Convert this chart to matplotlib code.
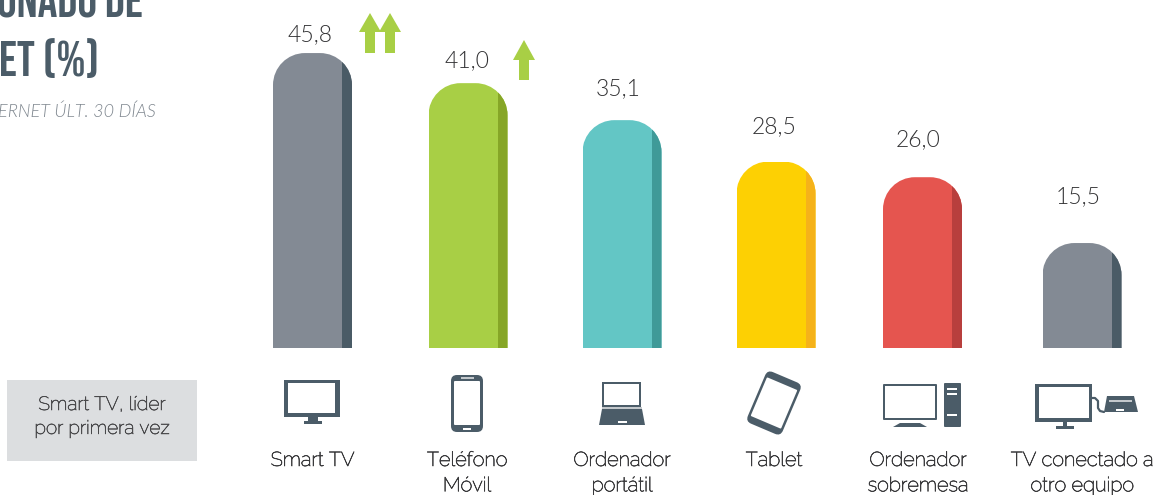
"""Porcentaje de uso de dispositivos: rounded bars with device icons under them."""
import matplotlib
matplotlib.use("Agg")
import matplotlib.patheffects as pe
import matplotlib.pyplot as plt
from matplotlib.patches import FancyBboxPatch, PathPatch, Polygon, Rectangle
from matplotlib.path import Path
from matplotlib.transforms import Affine2D

# data
categories = ["Smart TV", "Teléfono\nMóvil", "Ordenador\nportátil", "Tablet",
              "Ordenador\nsobremesa", "TV conectado a\notro equipo"]
values = [45.8, 41.0, 35.1, 28.5, 26.0, 15.5]

# layout, in pixels of the 1173x495 picture
W, H = 1173, 495
BASE_Y = 348
BAR_W = 79
SHADE_W = 10
RADIUS = 32
PX_PER_UNIT = 6.27
AXIS_FLOOR = -1.24
BAR_X = [312.5, 468, 622, 776, 922.5, 1082]
LABEL_X = [312.5, 467, 622, 774, 918, 1082]
VALUE_X = [310, 467, 618, 774, 918, 1078]
VALUE_Y = [35, 61, 89, 127, 140, 197]

FACE = ["#838a94", "#a8cf45", "#63c6c5", "#fdd003", "#e5554f", "#838a94"]
SHADE = ["#4a5b66", "#86a627", "#3f9a98", "#f5b21a", "#b83f3d", "#4a5b66"]
DARK = "#4b5c68"
LIGHT = "#c3c8cc"
GREEN = "#a8cf45"
TEXT = "#3a3a3c"
LIGHT_FAMILY = ["Raleway", "Lato", "DejaVu Sans"]
TITLE_FAMILY = ["Bebas Neue", "Barlow Condensed", "DejaVu Sans"]
# the installed Raleway renders thin, a hairline stroke brings it up to Light
THICKEN = [pe.withStroke(linewidth=0.45, foreground=TEXT)]

fig = plt.figure(figsize=(W / 100, H / 100), dpi=100, facecolor="white")

# bars live on an axes whose x is in pixels and y in percent
ax = fig.add_axes([0, 1 - BASE_Y / H, 1, BASE_Y / H])
ax.set_xlim(0, W)
ax.set_ylim(AXIS_FLOOR, AXIS_FLOOR + BASE_Y / PX_PER_UNIT)
ax.axis("off")

# free drawing overlay in image pixels, y down
px = fig.add_axes([0, 0, 1, 1])
px.set_xlim(0, W)
px.set_ylim(H, 0)
px.axis("off")


def rounded_top(x0, x1, top, radius):
    """Path of a bar with two rounded upper corners, in axes data units."""
    ry = radius / PX_PER_UNIT
    k = 0.5523
    verts = [(x0, AXIS_FLOOR), (x0, top - ry),
             (x0, top - ry + k * ry), (x0 + radius - k * radius, top), (x0 + radius, top),
             (x1 - radius, top),
             (x1 - radius + k * radius, top), (x1, top - ry + k * ry), (x1, top - ry),
             (x1, AXIS_FLOOR), (x0, AXIS_FLOOR)]
    codes = [Path.MOVETO, Path.LINETO, Path.CURVE4, Path.CURVE4, Path.CURVE4,
             Path.LINETO, Path.CURVE4, Path.CURVE4, Path.CURVE4, Path.LINETO, Path.CLOSEPOLY]
    return Path(verts, codes)


heights = [v - AXIS_FLOOR for v in values]
main_bars = ax.bar(BAR_X, heights, BAR_W, bottom=AXIS_FLOOR, color=FACE, linewidth=0)
for i, bar in enumerate(main_bars):
    x0, x1 = BAR_X[i] - BAR_W / 2, BAR_X[i] + BAR_W / 2
    outline = PathPatch(rounded_top(x0, x1, values[i], RADIUS), transform=ax.transData)
    bar.set_clip_path(outline)
    strip = ax.bar(x1 - SHADE_W / 2, heights[i], SHADE_W, bottom=AXIS_FLOOR,
                   color=SHADE[i], linewidth=0)[0]
    strip.set_clip_path(outline)

for x, y, v in zip(VALUE_X, VALUE_Y, values):
    px.text(x, y, f"{v:.1f}".replace(".", ","), ha="center", va="center",
            fontsize=16.5, family=["Lato", "DejaVu Sans"], weight=300, color="#333335")
for x, label in zip(LABEL_X, categories):
    px.text(x, 451, label, ha="center", va="top", fontsize=14.4, linespacing=1.42,
            family=LIGHT_FAMILY, color=TEXT, path_effects=THICKEN)


def arrow(x, top, bottom, head_y):
    """Green up arrow."""
    px.add_patch(Polygon([(x, top), (x + 11, head_y), (x + 5, head_y), (x + 5, bottom),
                          (x - 5, bottom), (x - 5, head_y), (x - 11, head_y)],
                         facecolor=GREEN, edgecolor="none"))


arrow(370, 13, 53, 32)
arrow(390, 13, 53, 32)
arrow(524, 40, 80, 60)

# title, cut off by the picture edge as in the source
px.text(-3, 17, "ONADO DE", ha="left", va="baseline", fontsize=35.5, color=DARK,
        family=TITLE_FAMILY, weight="bold")
px.text(-1, 76, "ET (%)", ha="left", va="baseline", fontsize=35.5, color=DARK,
        family=TITLE_FAMILY, weight="bold")
px.text(-2, 117, "ERNET ÚLT. 30 DÍAS", ha="left", va="baseline", fontsize=13, color="#808890",
        family=["Lato", "DejaVu Sans"], weight=300, style="italic")

# note box
px.add_patch(Rectangle((7, 380), 190, 81, facecolor="#dcdee0", edgecolor="none"))
px.text(102, 417, "Smart TV, líder\npor primera vez", ha="center", va="center",
        fontsize=13.8, linespacing=1.42, family=LIGHT_FAMILY, color="#49494b",
        path_effects=[pe.withStroke(linewidth=0.4, foreground="#49494b")])


def box(x0, y0, x1, y1, color=DARK, round_px=0, transform=None):
    """Filled rectangle on the pixel overlay, optionally rounded."""
    if round_px:
        p = FancyBboxPatch((x0 + round_px, y0 + round_px),
                           x1 - x0 - 2 * round_px, y1 - y0 - 2 * round_px,
                           boxstyle=f"round,pad={round_px},rounding_size={round_px}",
                           facecolor=color, edgecolor="none")
    else:
        p = Rectangle((x0, y0), x1 - x0, y1 - y0, facecolor=color, edgecolor="none")
    if transform is not None:
        p.set_transform(transform)
    px.add_patch(p)


def poly(points, color=DARK):
    px.add_patch(Polygon(points, facecolor=color, edgecolor="none"))


# smart tv
box(284, 380, 340, 417)
box(288, 383, 335, 413, "white")
box(308, 417, 318, 421)
box(304, 421, 322, 424)
# phone
box(451, 375, 483, 432, round_px=6)
box(454, 381, 480, 425, "white", round_px=1)
box(461, 377, 474, 378.5, LIGHT)
box(463, 428, 471, 430, "white")
# laptop
box(602, 382, 641, 407)
box(604, 383.5, 639, 405, "white")
box(602, 407, 642, 409, LIGHT)
poly([(602, 409), (642, 409), (645, 425), (599, 425)])
box(618, 421, 627, 423, "white")
# tablet, a rotated rounded slab
turn = Affine2D().rotate_deg_around(774, 403, 23) + px.transData
box(755, 375, 793, 431, round_px=6, transform=turn)
box(757.5, 382, 790.5, 424, "white", round_px=1, transform=turn)
# desktop
box(883, 384, 937, 420, round_px=1)
box(885, 386, 935, 417.5, "white")
poly([(900, 423), (920, 423), (927, 427), (893, 427)])
box(944, 383, 961, 427, round_px=1)
for y in (388, 393, 414):
    box(947, y, 957, y + 1.5, "white")
# tv plus box
box(1035, 384, 1092, 422)
box(1039, 387, 1089, 418, "white")
box(1063, 422, 1067, 426)
box(1056, 426, 1074, 428.5)
px.plot([1092, 1095, 1098, 1098, 1100, 1104], [398, 398, 401, 408, 411, 412],
        color=DARK, lw=1.6, solid_capstyle="round")
poly([(1107, 396), (1134, 396), (1138, 412), (1104, 412)])
box(1109, 400, 1132, 401.5, LIGHT)
box(1116, 409, 1124, 410.5, "white")

fig.savefig("out.png", dpi=100)
